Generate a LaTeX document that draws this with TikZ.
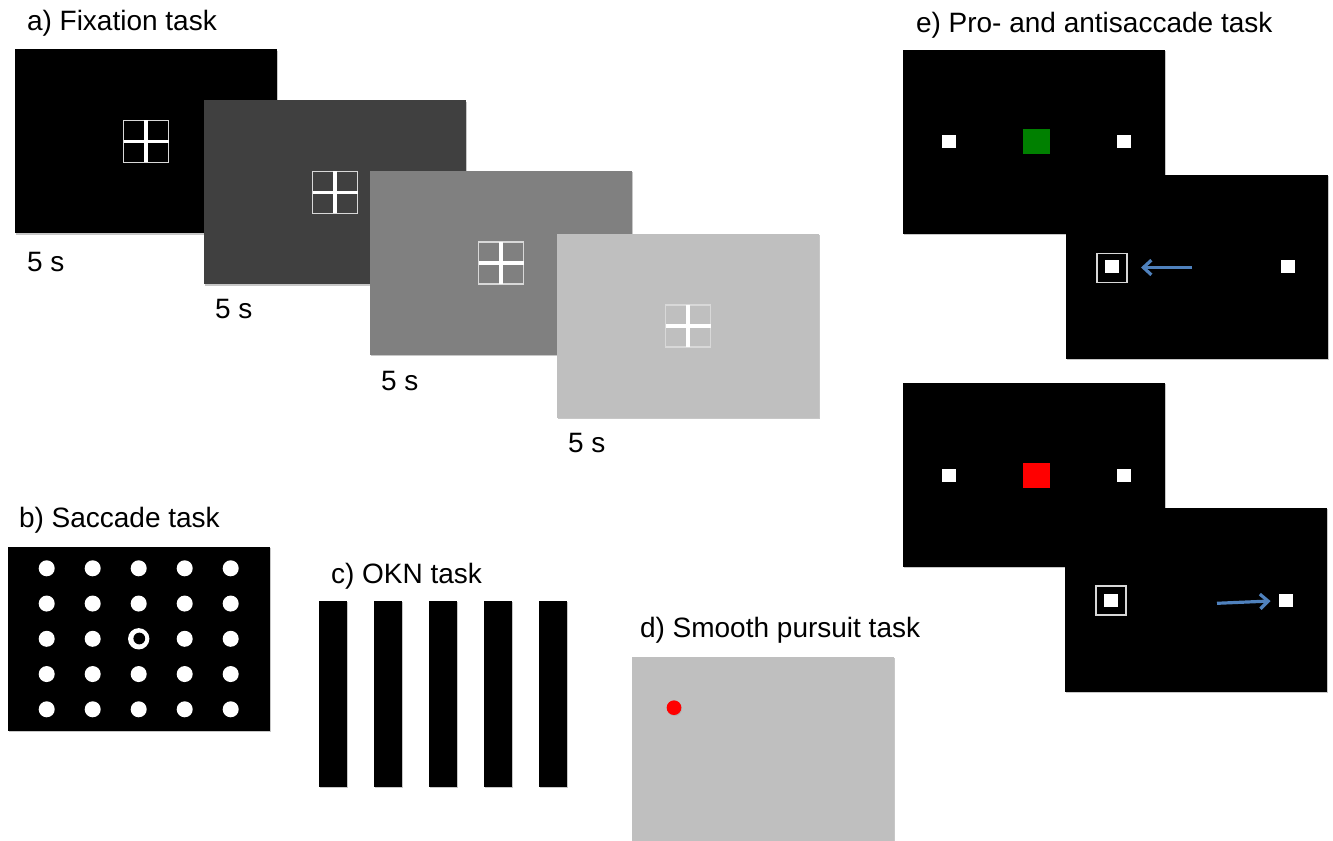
\documentclass[tikz,border=0pt]{standalone}
\usepackage{fontspec}
\setmainfont{Liberation Sans}
\usetikzlibrary{arrows.meta}
\definecolor{arrowblue}{HTML}{4F81BD}
\definecolor{grayA}{HTML}{404040}
\definecolor{grayB}{HTML}{808080}
\definecolor{grayC}{HTML}{BFBFBF}
\definecolor{okgreen}{HTML}{008000}
\definecolor{framegray}{HTML}{D8D8D8}
\begin{document}
\begin{tikzpicture}[x=0.75pt,y=-0.75pt,
  lbl/.style={anchor=base west, inner sep=0pt, outer sep=0pt, font=\fontsize{21pt}{25pt}\selectfont},
  panel/.style={draw=none, inner sep=0pt, outer sep=0pt, minimum width=196.5pt, minimum height=138pt},
  shadowed/.style={preaction={fill=black!22, transform canvas={xshift=0.8pt, yshift=-1.1pt}}},
  bar/.style={fill=black, inner sep=0pt, minimum width=20.6pt, minimum height=139.5pt, shadowed},
  wsq/.style={fill=white, inner sep=0pt, minimum width=10.5pt, minimum height=9.75pt},
  csq/.style={inner sep=0pt, minimum width=20.25pt, minimum height=18.75pt},
  fixframe/.style={draw=framegray, line width=1.1pt, inner sep=0pt, minimum width=22.5pt, minimum height=21.75pt},
  sarrow/.style={draw=arrowblue, line width=2.4pt, -{Straight Barb[length=6pt,width=11pt]}},
  fixcross/.pic={
    \draw[framegray, line width=1.3pt] (-22.5,-21) rectangle (22.5,21);
    \draw[white, line width=2.4pt] (-22.5,0) -- (22.5,0) (0,-21) -- (0,21);
  }
]
\useasboundingbox (0,0) rectangle (1333,841);
\fill[white] (0,0) rectangle (1333,841);

% ---------- a) Fixation task ----------
\node[lbl] (ta) at (27,30.5) {a) Fixation task};
\node[panel, fill=black, shadowed] (a1) at (146,141.5) {};
\pic at (a1.center) {fixcross};
\node[lbl] (sa1) at (27,272) {5 s};
\node[panel, fill=grayA, shadowed] (a2) at (335,192.5) {};
\pic at (a2.center) {fixcross};
\node[lbl] (sa2) at (215,318) {5 s};
\node[panel, fill=grayB, shadowed] (a3) at (501,263) {};
\pic at (a3.center) {fixcross};
\node[lbl] (sa3) at (381,390) {5 s};
\node[panel, fill=grayC, shadowed] (a4) at (688,326) {};
\pic at (a4.center) {fixcross};
\node[lbl] (sa4) at (568,452) {5 s};

% ---------- b) Saccade task ----------
\node[lbl] (tb) at (19,527) {b) Saccade task};
\node[panel, fill=black, shadowed] (b) at (139,639) {};
\foreach \i in {0,...,4}{
  \foreach \j in {0,...,4}{
    \fill[white] (46.7+46*\i, 568.3+35.25*\j) circle[radius=6pt];
  }
}
\fill[black] (138.7,638.8) circle[radius=6.2pt];
\fill[white] (138.7,638.8) circle[radius=8pt];
\fill[black] (139.3,638.5) circle[radius=4.4pt];

% ---------- c) OKN task ----------
\node[lbl] (tc) at (331,583) {c) OKN task};
\foreach \k/\xx in {1/333,2/387.9,3/443,4/498,5/552.9}{
  \node[bar] (bar\k) at (\xx,693.7) {};
}

% ---------- d) Smooth pursuit task ----------
\node[lbl] (td) at (640,637) {d) Smooth pursuit task};
\node[panel, fill=grayC, shadowed] (d) at (763,749) {};
\fill[black!30] (674.6,708.6) circle[radius=5.6pt];
\fill[red] (674,707.7) circle[radius=5.5pt];

% ---------- e) Pro- and antisaccade task ----------
\node[lbl] (te) at (916,33) {e) Pro- and antisaccade task};
% prosaccade
\node[panel, fill=black, shadowed] (e1) at (1033.5,142) {};
\node[wsq] (e1l) at (949,142) {};
\node[csq, fill=okgreen] (e1c) at (1036.5,142) {};
\node[wsq] (e1r) at (1124,142) {};
\node[panel, fill=black, shadowed] (e2) at (1197,267) {};
\node[fixframe] (e2f) at (1112,268) {};
\node[wsq] (e2l) at (1112,267) {};
\node[wsq] (e2r) at (1288,267) {};
\coordinate (p1) at (1192,267.5);
\coordinate (p2) at (1141,267.5);
\draw[sarrow] (p1) -- (p2);
% antisaccade
\node[panel, fill=black, shadowed] (e3) at (1033.5,475) {};
\node[wsq] (e3l) at (949,475.5) {};
\node[csq, fill=red] (e3c) at (1036.7,475) {};
\node[wsq] (e3r) at (1124,475.5) {};
\node[panel, fill=black, shadowed] (e4) at (1196,600) {};
\node[fixframe] (e4f) at (1111,600.7) {};
\node[wsq] (e4l) at (1111,600.5) {};
\node[wsq] (e4r) at (1286,600) {};
\coordinate (q1) at (1217,603.3);
\coordinate (q2) at (1270.5,601);
\draw[sarrow] (q1) -- (q2);
\end{tikzpicture}
\end{document}
